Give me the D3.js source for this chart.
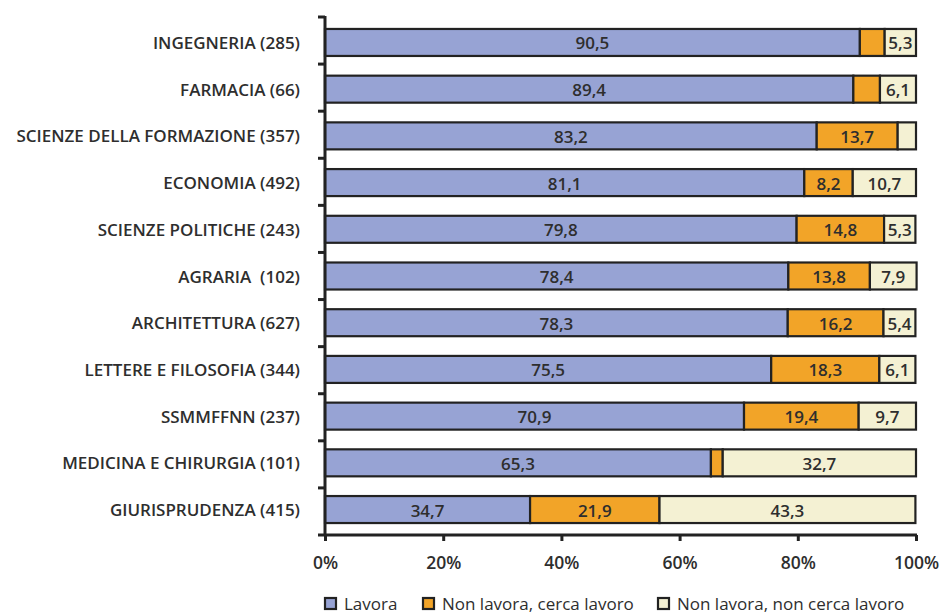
<!DOCTYPE html>
<html>
<head>
<meta charset="utf-8">
<script src="https://cdn.jsdelivr.net/npm/d3@7/dist/d3.min.js"></script>
<style>
  html, body { margin: 0; padding: 0; background: #fff; }
  svg { display: block; }
  text { font-family: "Open Sans", sans-serif; fill: #2e2e2e; white-space: pre; }
</style>
</head>
<body>
<svg id="chart" width="943" height="614"></svg>
<script>
// Faculties (graduates in brackets), top to bottom
const categories = [
  "INGEGNERIA (285)",
  "FARMACIA (66)",
  "SCIENZE DELLA FORMAZIONE (357)",
  "ECONOMIA (492)",
  "SCIENZE POLITICHE (243)",
  "AGRARIA  (102)",
  "ARCHITETTURA (627)",
  "LETTERE E FILOSOFIA (344)",
  "SSMMFFNN (237)",
  "MEDICINA E CHIRURGIA (101)",
  "GIURISPRUDENZA (415)"
];
const seriesNames = ["Lavora", "Non lavora, cerca lavoro", "Non lavora, non cerca lavoro"];
const lavora      = [90.5, 89.4, 83.2, 81.1, 79.8, 78.4, 78.3, 75.5, 70.9, 65.3, 34.7];
const cercaLavoro = [4.2, 4.5, 13.7, 8.2, 14.8, 13.8, 16.2, 18.3, 19.4, 2.0, 21.9];
const nonCerca    = [5.3, 6.1, 3.1, 10.7, 5.3, 7.9, 5.4, 6.1, 9.7, 32.7, 43.3];
const tickValues  = [0, 20, 40, 60, 80, 100];
const colors      = ["#97a3d4", "#f2a428", "#f4f1d3"];

const rows = categories.map((c, i) => ({
  cat: c,
  vals: [lavora[i], cercaLavoro[i], nonCerca[i]]
}));

const svg = d3.select("#chart");
const x = d3.scaleLinear().domain([0, 100]).range([325, 916]);
const y = d3.scaleBand().domain(categories).range([17, 535]).paddingInner(0.422).paddingOuter(0.256);
const yCell = d3.scaleBand().domain(categories).range([17, 535]);
const stroke = "#222";

// bars
rows.forEach(r => {
  let acc = 0;
  const g = svg.append("g");
  r.vals.forEach((v, k) => {
    const x0 = x(acc), x1 = x(acc + v);
    g.append("rect")
      .attr("x", x0).attr("y", y(r.cat))
      .attr("width", Math.max(0, x1 - x0)).attr("height", y.bandwidth())
      .attr("fill", colors[k]).attr("stroke", stroke).attr("stroke-width", 2.2);
    if (v >= 5) {
      g.append("text")
        .attr("x", (x0 + x1) / 2).attr("y", y(r.cat) + y.bandwidth() / 2 + 0.5)
        .attr("text-anchor", "middle").attr("dominant-baseline", "central")
        .attr("font-size", 17).attr("font-weight", 600)
        .text(d3.format(".1f")(v).replace(".", ","));
    }
    acc += v;
  });
});

// category axis, with ticks at the cell boundaries
const yAxisG = svg.append("g");
yAxisG.append("line").attr("x1", 325).attr("x2", 325).attr("y1", 16).attr("y2", 535)
  .attr("stroke", stroke).attr("stroke-width", 3);
categories.forEach(c => {
  yAxisG.append("line").attr("x1", 318).attr("x2", 325).attr("y1", yCell(c)).attr("y2", yCell(c))
    .attr("stroke", stroke).attr("stroke-width", 3);
});
categories.forEach(c => {
  yAxisG.append("text")
    .attr("x", 300).attr("y", y(c) + y.bandwidth() / 2)
    .attr("text-anchor", "end").attr("dominant-baseline", "central")
    .attr("font-size", 17).attr("font-weight", 600)
    .text(c);
});

// value axis
const xAxis = d3.axisBottom(x).tickValues(tickValues).tickSize(6).tickPadding(16)
  .tickFormat(d => d + "%");
const xg = svg.append("g").attr("transform", "translate(0,535)").call(xAxis);
xg.select(".domain").attr("stroke", stroke).attr("stroke-width", 3).attr("d", "M318,0H917");
xg.selectAll(".tick line").attr("stroke", stroke).attr("stroke-width", 3);
xg.selectAll(".tick text").attr("font-size", 17.5).attr("font-weight", 600)
  .attr("fill", "#2e2e2e").attr("font-family", null);

// legend
const legendX = [325, 423, 658];
const legend = svg.append("g");
seriesNames.forEach((n, k) => {
  legend.append("rect").attr("x", legendX[k]).attr("y", 598).attr("width", 11).attr("height", 11)
    .attr("fill", colors[k]).attr("stroke", stroke).attr("stroke-width", 2.2);
  legend.append("text").attr("x", legendX[k] + 19).attr("y", 603)
    .attr("dominant-baseline", "central").attr("font-size", 17)
    .style("font-stretch", "95%")
    .text(n);
});
</script>
</body>
</html>
